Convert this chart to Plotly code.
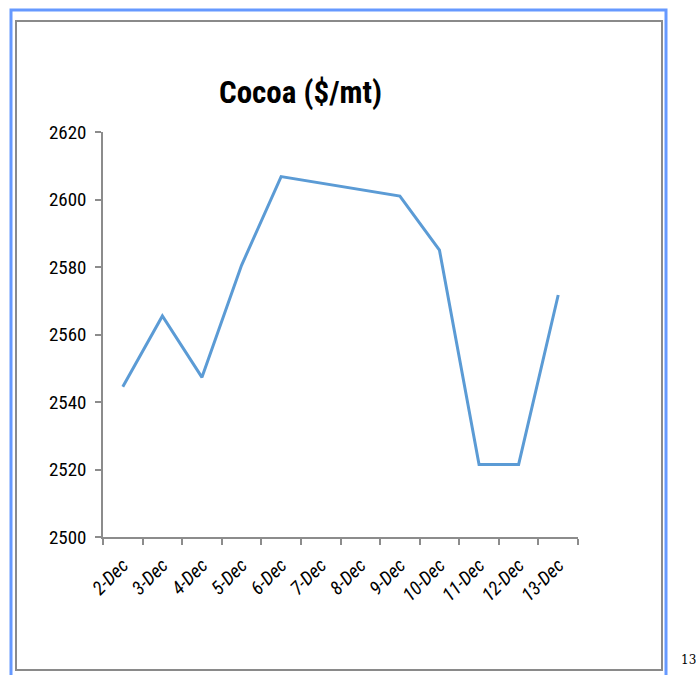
import plotly.graph_objects as go

dates = ["2-Dec", "3-Dec", "4-Dec", "5-Dec", "6-Dec", "7-Dec", "8-Dec",
         "9-Dec", "10-Dec", "11-Dec", "12-Dec", "13-Dec"]
prices = [2544.5, 2565.5, 2547.3, 2580.5, 2606.8, None, None,
          2601.0, 2585.0, 2521.5, 2521.5, 2571.7]
y_ticks = [2500, 2520, 2540, 2560, 2580, 2600, 2620]

W, H = 696, 675
L, R, T, B = 103, 578, 132, 537
pw, ph = R - L, B - T

def px(x):
    return (x - L) / pw

def py(y):
    return (B - y) / ph

fig = go.Figure()
fig.add_trace(go.Scatter(
    x=dates, y=prices, mode="lines", connectgaps=True,
    line=dict(color="#5b9bd5", width=3), showlegend=False,
))

font_main = "Liberation Sans Narrow, Roboto Condensed, Arial Narrow, Roboto, sans-serif"

fig.update_layout(
    width=W, height=H,
    margin=dict(l=L, r=W - R, t=T, b=H - B),
    paper_bgcolor="white", plot_bgcolor="white",
    xaxis=dict(
        type="category", range=[-0.5, 11.5], tickson="boundaries",
        ticks="outside", ticklen=6, tickcolor="#8c8c8c", tickwidth=1.5,
        showline=True, linecolor="#8c8c8c", linewidth=1.5,
        showgrid=False, tickangle=-45, ticklabelstandoff=8,
        tickfont=dict(family=font_main, size=19, color="black", style="italic"),
    ),
    yaxis=dict(
        range=[2500, 2620], tickvals=y_ticks,
        ticks="outside", ticklen=6, tickcolor="#8c8c8c", tickwidth=1.5,
        showline=True, linecolor="#8c8c8c", linewidth=1.5,
        showgrid=False, zeroline=False, ticklabelstandoff=5,
        tickfont=dict(family=font_main, size=19, color="black"),
    ),
    shapes=[
        dict(type="rect", xref="paper", yref="paper",
             x0=px(11), x1=px(666), y0=py(690), y1=py(10),
             line=dict(color="#6699ff", width=3)),
        dict(type="rect", xref="paper", yref="paper",
             x0=px(16), x1=px(662), y0=py(670), y1=py(21),
             line=dict(color="#8a8a8a", width=2)),
    ],
    annotations=[
        dict(text="<b>Cocoa ($/mt)</b>", xref="paper", yref="paper",
             x=px(300), y=py(93), xanchor="center", yanchor="middle",
             showarrow=False,
             font=dict(family=font_main, size=31, color="black")),
        dict(text="13", xref="paper", yref="paper",
             x=px(688), y=py(660), xanchor="center", yanchor="middle",
             showarrow=False,
             font=dict(family="DejaVu Serif, Liberation Serif, serif", size=12, color="black")),
    ],
)

fig.write_html("out.html")
